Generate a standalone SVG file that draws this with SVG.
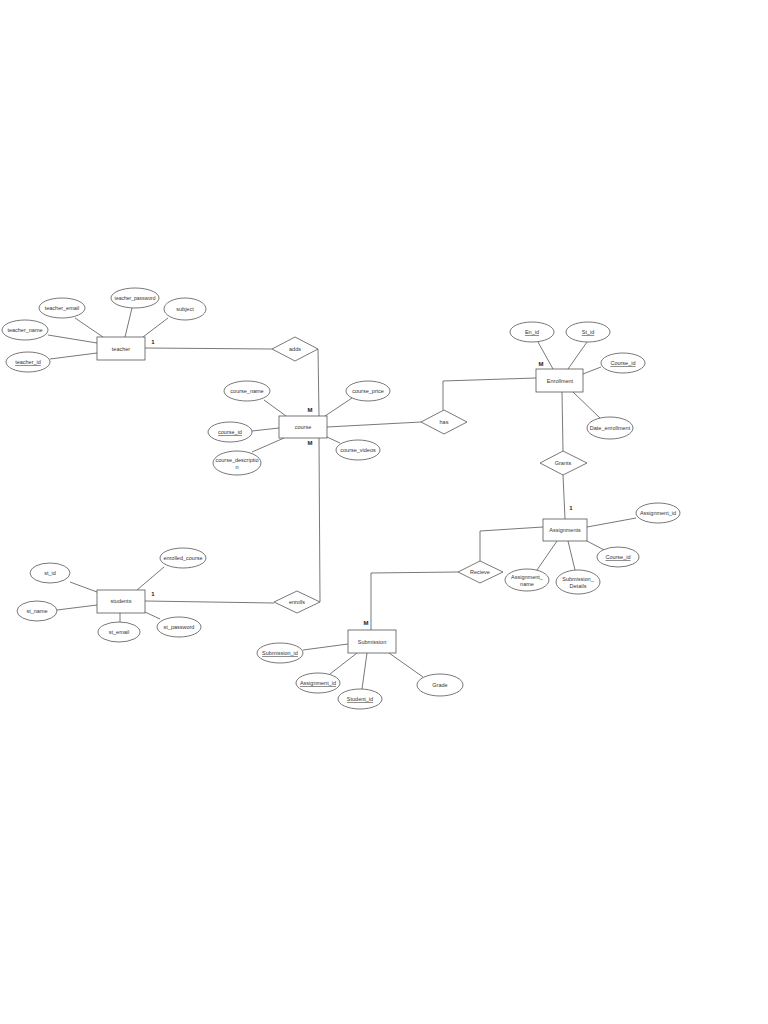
<svg xmlns="http://www.w3.org/2000/svg" width="768" height="1024" viewBox="0 0 768 1024">
<style>
.s{fill:#fff;stroke:#555;stroke-width:0.8}
.l{stroke:#555;stroke-width:0.8;fill:none}
text{font-family:"Liberation Sans",Arial,sans-serif;font-size:5.5px;fill:#333;text-anchor:middle;dominant-baseline:central}
.u{text-decoration:underline}
.c{font-size:6px;font-weight:bold;fill:#222}
</style>
<rect width="768" height="1024" fill="#fff"/>
<g id="connectors">
<line class="l" x1="145" y1="348" x2="272" y2="349"/>
<polyline class="l" points="318,349 319,416"/>
<polyline class="l" points="319,438 320,602"/>
<line class="l" x1="145" y1="601" x2="274" y2="603"/>
<line class="l" x1="327" y1="427" x2="421" y2="422"/>
<polyline class="l" points="443,410 443,381 536,378"/>
<line class="l" x1="562" y1="392" x2="563" y2="451"/>
<line class="l" x1="563" y1="475" x2="565" y2="519"/>
<polyline class="l" points="543,527 480,531 480,561"/>
<polyline class="l" points="458,572 371,573 371,630"/>
<!-- teacher attrs -->
<line class="l" x1="75" y1="318" x2="103" y2="337"/>
<line class="l" x1="132" y1="308" x2="125" y2="337"/>
<line class="l" x1="168" y1="318" x2="143" y2="337"/>
<line class="l" x1="48" y1="335" x2="97" y2="343"/>
<line class="l" x1="50" y1="359" x2="97" y2="353"/>
<!-- course attrs -->
<line class="l" x1="264" y1="400" x2="286" y2="416"/>
<line class="l" x1="352" y1="398" x2="325" y2="416"/>
<line class="l" x1="252" y1="431" x2="279" y2="428"/>
<line class="l" x1="340" y1="443" x2="327" y2="437"/>
<line class="l" x1="252" y1="452" x2="284" y2="438"/>
<!-- enrollment attrs -->
<line class="l" x1="538" y1="342" x2="553" y2="369"/>
<line class="l" x1="587" y1="342" x2="568" y2="369"/>
<line class="l" x1="601" y1="367" x2="583" y2="374"/>
<line class="l" x1="600" y1="418" x2="573" y2="392"/>
<!-- assignments attrs -->
<line class="l" x1="636" y1="518" x2="587" y2="527"/>
<line class="l" x1="608" y1="552" x2="587" y2="541"/>
<line class="l" x1="575" y1="570" x2="568" y2="541"/>
<line class="l" x1="537" y1="570" x2="557" y2="541"/>
<!-- students attrs -->
<line class="l" x1="70" y1="582" x2="97" y2="592"/>
<line class="l" x1="164" y1="567" x2="137" y2="590"/>
<line class="l" x1="57" y1="610" x2="97" y2="605"/>
<line class="l" x1="120" y1="613" x2="120" y2="622"/>
<line class="l" x1="145" y1="612" x2="160" y2="619"/>
<!-- submission attrs -->
<line class="l" x1="303" y1="650" x2="348" y2="644"/>
<line class="l" x1="330" y1="674" x2="357" y2="653"/>
<line class="l" x1="362" y1="689" x2="367" y2="653"/>
<line class="l" x1="423" y1="677" x2="389" y2="653"/>
</g>
<g id="teacher"><rect class="s" x="97" y="337" width="48" height="23"/><text x="121" y="348.5">teacher</text><text class="c" x="153" y="342">1</text></g>
<g id="teacher_email"><ellipse class="s" cx="62" cy="308" rx="23" ry="10"/><text x="62" y="308">teacher_email</text></g>
<g id="teacher_password"><ellipse class="s" cx="135" cy="298" rx="24" ry="10"/><text x="135" y="298" style="font-size:5px">teacher_password</text></g>
<g id="subject"><ellipse class="s" cx="185" cy="309" rx="21" ry="11"/><text x="185" y="309">subject</text></g>
<g id="teacher_name"><ellipse class="s" cx="25" cy="330" rx="23" ry="10"/><text x="25" y="330">teacher_name</text></g>
<g id="teacher_id"><ellipse class="s" cx="28" cy="362" rx="22" ry="10"/><text class="u" x="28" y="362">teacher_id</text></g>
<g id="adds"><polygon class="s" points="272,349 295,337 318,349 295,361"/><text x="295" y="349">adds</text></g>
<g id="course"><rect class="s" x="279" y="416" width="48" height="22"/><text x="303" y="427">course</text><text class="c" x="310" y="410">M</text><text class="c" x="310" y="443">M</text></g>
<g id="course_name"><ellipse class="s" cx="247" cy="391" rx="23" ry="10"/><text x="247" y="391">course_name</text></g>
<g id="course_price"><ellipse class="s" cx="368" cy="391" rx="22" ry="10"/><text x="368" y="391">course_price</text></g>
<g id="course_id"><ellipse class="s" cx="230" cy="432" rx="22" ry="10"/><text class="u" x="230" y="432">course_id</text></g>
<g id="course_videos"><ellipse class="s" cx="358" cy="450" rx="22" ry="10"/><text x="358" y="450">course_videos</text></g>
<g id="course_description"><ellipse class="s" cx="237" cy="463" rx="24" ry="12"/><text x="237" y="460">course_descriptio</text><text x="237" y="467">n</text></g>
<g id="has"><polygon class="s" points="421,422 444,410 467,422 444,434"/><text x="444" y="422">has</text></g>
<g id="enrollment"><rect class="s" x="536" y="369" width="47" height="23"/><text x="560" y="380.5">Enrollment</text><text class="c" x="541" y="364">M</text></g>
<g id="en_id"><ellipse class="s" cx="532" cy="332" rx="22" ry="10"/><text class="u" x="532" y="332">En_id</text></g>
<g id="st_id_en"><ellipse class="s" cx="588" cy="332" rx="22" ry="10"/><text class="u" x="588" y="332">St_id</text></g>
<g id="course_id_en"><ellipse class="s" cx="623" cy="363" rx="22" ry="10"/><text class="u" x="623" y="363">Course_id</text></g>
<g id="date_enrollment"><ellipse class="s" cx="610" cy="428" rx="23" ry="11"/><text x="610" y="428">Date_enrollment</text></g>
<g id="grants"><polygon class="s" points="540,463 563,451 587,463 563,475"/><text x="563" y="463">Grants</text></g>
<g id="assignments"><rect class="s" x="543" y="519" width="44" height="22"/><text x="565" y="530">Assignments</text><text class="c" x="571" y="508">1</text></g>
<g id="assignment_id"><ellipse class="s" cx="658" cy="513" rx="22" ry="10"/><text x="658" y="513">Assignment_id</text></g>
<g id="course_id_as"><ellipse class="s" cx="618" cy="557" rx="21" ry="10"/><text class="u" x="618" y="557">Course_id</text></g>
<g id="submission_details"><ellipse class="s" cx="578" cy="582" rx="22" ry="12"/><text x="578" y="579">Submission_</text><text x="578" y="586">Details</text></g>
<g id="assignment_name"><ellipse class="s" cx="527" cy="580" rx="22" ry="11"/><text x="527" y="577">Assignment_</text><text x="527" y="584">name</text></g>
<g id="recieve"><polygon class="s" points="458,572 480,561 503,572 480,583"/><text x="480" y="572">Recieve</text></g>
<g id="submission"><rect class="s" x="348" y="630" width="48" height="23"/><text x="372" y="641.5">Submission</text><text class="c" x="366" y="623">M</text></g>
<g id="submission_id"><ellipse class="s" cx="280" cy="653" rx="23" ry="10"/><text class="u" x="280" y="653">Submission_id</text></g>
<g id="assignment_id_sub"><ellipse class="s" cx="318" cy="683" rx="22" ry="10"/><text class="u" x="318" y="683">Assignment_id</text></g>
<g id="student_id"><ellipse class="s" cx="360" cy="699" rx="22" ry="10"/><text class="u" x="360" y="699">Student_id</text></g>
<g id="grade"><ellipse class="s" cx="440" cy="685" rx="23" ry="11"/><text x="440" y="685">Grade</text></g>
<g id="students"><rect class="s" x="97" y="590" width="48" height="23"/><text x="121" y="601">students</text><text class="c" x="153" y="594">1</text></g>
<g id="st_id"><ellipse class="s" cx="50" cy="573" rx="20" ry="10"/><text x="50" y="573">st_id</text></g>
<g id="enrolled_course"><ellipse class="s" cx="183" cy="558" rx="23" ry="10"/><text x="183" y="558">enrolled_course</text></g>
<g id="st_name"><ellipse class="s" cx="37" cy="611" rx="20" ry="10"/><text x="37" y="611">st_name</text></g>
<g id="st_email"><ellipse class="s" cx="119" cy="632" rx="21" ry="10"/><text x="119" y="632">st_email</text></g>
<g id="st_password"><ellipse class="s" cx="179" cy="627" rx="22" ry="10"/><text x="179" y="627">st_password</text></g>
<g id="enrolls"><polygon class="s" points="274,602 297,591 320,602 297,613"/><text x="297" y="602">enrolls</text></g>
</svg>
